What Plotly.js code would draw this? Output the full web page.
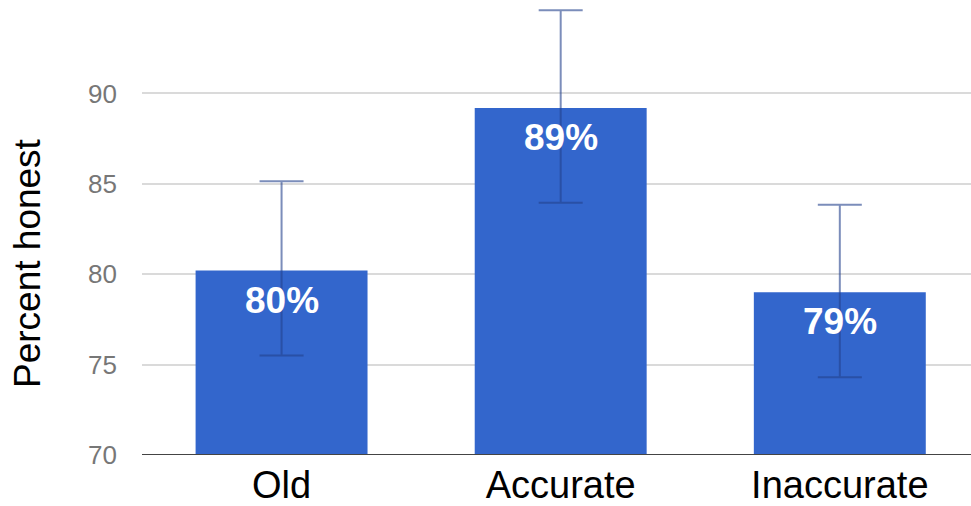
<!DOCTYPE html>
<html>
<head>
<meta charset="utf-8">
<script src="https://cdn.plot.ly/plotly-3.0.1.min.js"></script>
<style>html,body{margin:0;padding:0;background:#fff;}#chart{width:971px;height:506px;}</style>
</head>
<body>
<div id="chart"></div>
<script>
const categories = ["Old", "Accurate", "Inaccurate"];
const values = [80.2, 89.2, 79.0];
const errUpper = [4.95, 5.4, 4.85];
const errLower = [4.7, 5.25, 4.7];
const labels = ["80%", "89%", "79%"];
const yTicks = [70, 75, 80, 85, 90];
const yTitle = "Percent honest";

const FONT = 'Arial, Liberation Sans, sans-serif';

const trace = {
  type: 'bar',
  x: categories,
  y: values,
  marker: {color: '#3366cc'},
  error_y: {
    type: 'data', symmetric: false,
    array: errUpper, arrayminus: errLower,
    color: 'rgba(35,65,140,0.6)', thickness: 2, width: 22
  },
  hoverinfo: 'none'
};

const annotations = categories.map((c, i) => ({
  x: c, y: values[i], xref: 'x', yref: 'y',
  text: labels[i], showarrow: false, yanchor: 'top', yshift: -7,
  font: {family: FONT, size: 37, color: '#ffffff', weight: 'bold'}
}));
annotations.push({
  xref: 'paper', yref: 'paper', x: -114 / 829, y: 0.422,
  xanchor: 'center', yanchor: 'middle', textangle: -90, showarrow: false,
  text: yTitle, font: {family: FONT, size: 37, color: '#000000'}
});

const layout = {
  width: 971, height: 506,
  margin: {l: 142, r: 0, t: 0, b: 51},
  paper_bgcolor: '#ffffff', plot_bgcolor: '#ffffff',
  bargap: 0.384,
  showlegend: false,
  xaxis: {
    range: [-0.5, 2.47],
    showgrid: false, zeroline: false,
    showline: false,
    ticks: '',
    tickfont: {family: FONT, size: 38, color: '#000000'},
    ticklabelstandoff: 4
  },
  yaxis: {
    range: [70, 95.17],
    tickvals: yTicks,
    ticktext: yTicks.map(String),
    showgrid: true, gridcolor: '#dadada', gridwidth: 2,
    zeroline: false, showline: false, ticks: '',
    tickfont: {family: FONT, size: 26, color: '#777777'},
    ticklabelstandoff: 24
  },
  shapes: [{type: 'line', xref: 'paper', yref: 'y', x0: 0, x1: 1, y0: 70, y1: 70,
    line: {color: '#444444', width: 2}}],
  annotations: annotations
};

Plotly.newPlot('chart', [trace], layout, {displayModeBar: false, staticPlot: true});
</script>
</body>
</html>
